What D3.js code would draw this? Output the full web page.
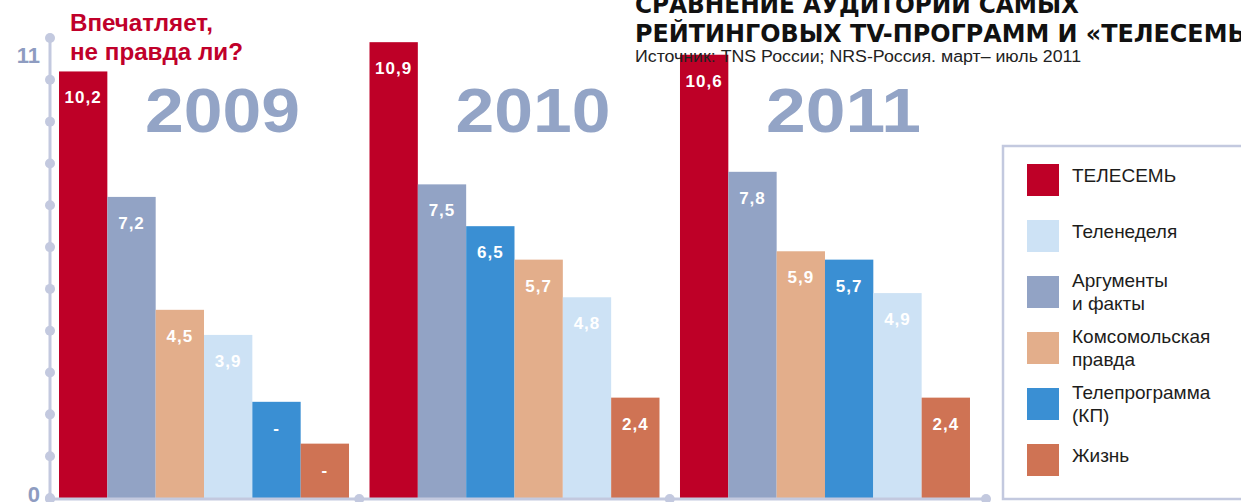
<!DOCTYPE html>
<html>
<head>
<meta charset="utf-8">
<script src="https://cdn.jsdelivr.net/npm/d3@7"></script>
<style>
  body { margin: 0; background: #fff; overflow: hidden; }
  svg { display: block; }
</style>
</head>
<body>
<script>
// chart data
const years = ["2009", "2010", "2011"];
const series = ["ТЕЛЕСЕМЬ", "Теленеделя", "Аргументы и факты", "Комсомольская правда", "Телепрограмма (КП)", "Жизнь"];
const legendLines = [["ТЕЛЕСЕМЬ"], ["Теленеделя"], ["Аргументы", "и факты"], ["Комсомольская", "правда"], ["Телепрограмма", "(КП)"], ["Жизнь"]];
const colors = ["#be0027", "#cde2f5", "#92a3c5", "#e3ae8b", "#3a8fd3", "#cf7354"];
const values2009 = [10.2, 3.9, 7.2, 4.5, 2.3, 1.3];
const values2010 = [10.9, 4.8, 7.5, 5.7, 6.5, 2.4];
const values2011 = [10.6, 4.9, 7.8, 5.9, 5.7, 2.4];
// 2009: no figure given for the last two titles, bar shown with a dash
const noData2009 = [false, false, false, false, true, true];
const yLabels = [0, 11];

const width = 1241;
const height = 502;
const axisColor = "#c3c9df";

const svg = d3.select("body").append("svg")
  .attr("width", width)
  .attr("height", height);

const y = d3.scaleLinear().domain([0, 11]).range([498, 38]);

const x = d3.scaleBand()
  .domain(years)
  .range([50, 986])
  .paddingInner(0.066)
  .paddingOuter(0.0403)
  .align(0.36);

const xi = d3.scaleBand().domain(d3.range(6)).range([0, x.bandwidth()]);

const fmt = v => d3.format(".1f")(v).replace(".", ",");

const groups = years.map((yr, i) => {
  const vals = [values2009, values2010, values2011][i];
  const rows = series.map((s, j) => ({
    year: yr,
    s: j,
    v: vals[j],
    label: (i === 0 && noData2009[j]) ? "-" : fmt(vals[j])
  }));
  rows.sort((a, b) => b.v - a.v);
  rows.forEach((r, k) => r.rank = k);
  return rows;
});

// year numbers behind bars
svg.append("g")
  .selectAll("text")
  .data(years)
  .join("text")
  .attr("x", d => x(d) + 86)
  .attr("y", 132)
  .attr("textLength", 155)
  .attr("lengthAdjust", "spacingAndGlyphs")
  .attr("font-family", "Liberation Sans, Arial, sans-serif")
  .attr("font-weight", "bold")
  .attr("font-size", 63)
  .attr("fill", "#93a4c6")
  .text(d => d);

// bars
const barG = svg.append("g");
groups.forEach(rows => {
  const g = barG.append("g").attr("transform", `translate(${x(rows[0].year)},0)`);
  g.selectAll("rect")
    .data(rows)
    .join("rect")
    .attr("x", d => xi(d.rank))
    .attr("y", d => y(d.v))
    .attr("width", xi.bandwidth())
    .attr("height", d => y(0) - y(d.v))
    .attr("fill", d => colors[d.s]);
  g.selectAll("text")
    .data(rows)
    .join("text")
    .attr("x", d => xi(d.rank) + xi.bandwidth() / 2)
    .attr("y", d => y(d.v) + 32)
    .attr("text-anchor", "middle")
    .attr("font-family", "Liberation Sans, Arial, sans-serif")
    .attr("font-weight", "bold")
    .attr("font-size", 17)
    .attr("letter-spacing", 1)
    .attr("fill", "#fff")
    .text(d => d.label);
});

// y axis
svg.append("line")
  .attr("x1", 50).attr("x2", 50)
  .attr("y1", y(11)).attr("y2", y(0))
  .attr("stroke", axisColor).attr("stroke-width", 3);
svg.append("g")
  .selectAll("circle")
  .data(y.ticks(11))
  .join("circle")
  .attr("cx", 50)
  .attr("cy", d => y(d))
  .attr("r", 5)
  .attr("fill", axisColor);
svg.append("g")
  .selectAll("text")
  .data(yLabels)
  .join("text")
  .attr("x", 40)
  .attr("y", d => d === 0 ? y(d) + 4 : y(d) + 25)
  .attr("text-anchor", "end")
  .attr("font-family", "Liberation Sans, Arial, sans-serif")
  .attr("font-weight", "bold")
  .attr("font-size", 22)
  .attr("fill", "#8e9cc1")
  .text(d => d);

// x axis with group separators
const xr = x.range();
const seps = [xr[0]].concat(years.slice(1).map(d => x(d) - x.step() * x.paddingInner() / 2), [xr[1]]);
svg.append("line")
  .attr("x1", xr[0]).attr("x2", xr[1])
  .attr("y1", 499).attr("y2", 499)
  .attr("stroke", axisColor).attr("stroke-width", 3);
svg.append("g")
  .selectAll("circle")
  .data(seps)
  .join("circle")
  .attr("cx", d => d)
  .attr("cy", 499)
  .attr("r", 5)
  .attr("fill", axisColor);

// red heading
const head = svg.append("g")
  .attr("font-family", "Liberation Sans, Arial, sans-serif")
  .attr("font-weight", "bold")
  .attr("font-size", 24)
  .attr("fill", "#c0002a");
head.append("text").attr("x", 70).attr("y", 31)
  .attr("textLength", 143).attr("lengthAdjust", "spacingAndGlyphs")
  .text("Впечатляет,");
head.append("text").attr("x", 70).attr("y", 60)
  .attr("textLength", 173).attr("lengthAdjust", "spacingAndGlyphs")
  .text("не правда ли?");

// title (top line runs off the top edge, second line off the right edge)
const title = svg.append("g")
  .attr("font-family", "DejaVu Sans Condensed, Liberation Sans Narrow, Liberation Sans, sans-serif")
  .attr("font-weight", "bold")
  .attr("font-size", 24)
  .attr("fill", "#111");
title.append("text").attr("x", 635).attr("y", 13)
  .attr("textLength", 444).attr("lengthAdjust", "spacingAndGlyphs")
  .text("СРАВНЕНИЕ АУДИТОРИИ САМЫХ");
title.append("text").attr("x", 635).attr("y", 42)
  .attr("textLength", 626).attr("lengthAdjust", "spacingAndGlyphs")
  .text("РЕЙТИНГОВЫХ  TV-ПРОГРАММ И «ТЕЛЕСЕМЬ»");
svg.append("text")
  .attr("x", 635).attr("y", 62)
  .attr("textLength", 446).attr("lengthAdjust", "spacingAndGlyphs")
  .attr("font-family", "Liberation Sans, Arial, sans-serif")
  .attr("font-size", 16)
  .attr("fill", "#222")
  .text("Источник: TNS России; NRS-Россия. март– июль 2011");

// legend
const legend = svg.append("g");
legend.append("path")
  .attr("d", `M${width + 5},146 H1003 V499 H${width + 5}`)
  .attr("fill", "none")
  .attr("stroke", axisColor)
  .attr("stroke-width", 2.5);
const item = legend.selectAll("g.item")
  .data(series)
  .join("g")
  .attr("class", "item")
  .attr("transform", (d, i) => `translate(1027,${164 + i * 56})`);
item.append("rect")
  .attr("width", 32).attr("height", 32)
  .attr("fill", (d, i) => colors[i]);
item.each(function (d, i) {
  const lines = legendLines[i];
  const t = d3.select(this).append("text")
    .attr("font-family", "Liberation Sans, Arial, sans-serif")
    .attr("font-size", 19)
    .attr("fill", "#1d1d1b");
  lines.forEach((l, k) => {
    t.append("tspan")
      .attr("x", 45)
      .attr("y", (lines.length === 1 ? 18 : 11) + k * 23)
      .text(l);
  });
});
</script>
</body>
</html>
